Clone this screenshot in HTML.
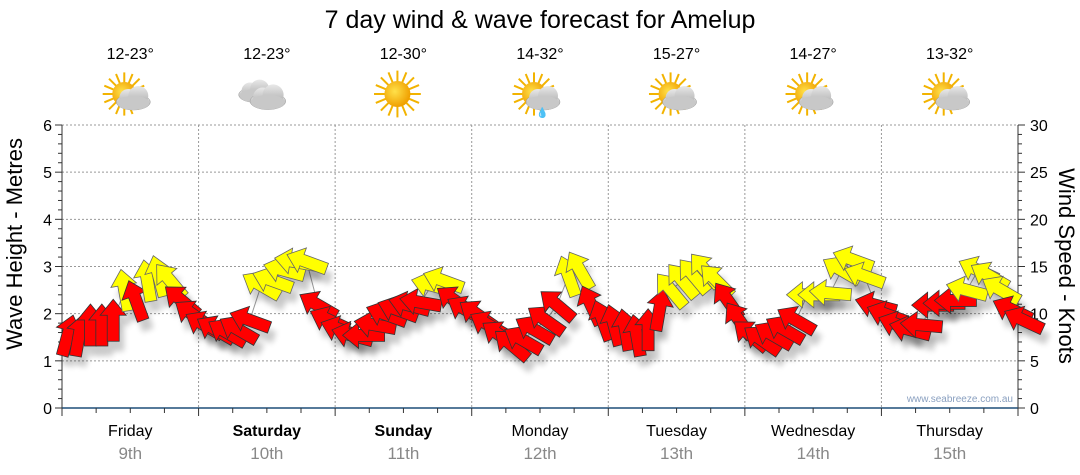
<!DOCTYPE html>
<html><head><meta charset="utf-8"><style>
body{margin:0;background:#fff;font-family:"Liberation Sans",sans-serif}
svg{display:block}
</style></head><body>
<svg id="c" width="1080" height="475" xmlns="http://www.w3.org/2000/svg">
<defs>
<filter id="sh" x="-50%" y="-50%" width="200%" height="200%"><feGaussianBlur stdDeviation="3"/></filter>
<radialGradient id="sun" cx="0.4" cy="0.4" r="0.6"><stop offset="0" stop-color="#ffe14a"/><stop offset="1" stop-color="#f0a000"/></radialGradient>
<linearGradient id="cl" x1="0" y1="0" x2="0" y2="1"><stop offset="0" stop-color="#e8e8e8"/><stop offset="1" stop-color="#a8a8a8"/></linearGradient>
</defs>
<text x="540" y="28" text-anchor="middle" font-size="25" fill="#000">7 day wind &amp; wave forecast for Amelup</text>
<g id="grid"></g>
<g id="axes"></g>
<g id="icons"></g>
<g id="arrows"></g>
<text x="1013" y="402" text-anchor="end" font-size="10" fill="#8aa0c0">www.seabreeze.com.au</text>
<text transform="translate(22,244) rotate(-90)" text-anchor="middle" font-size="22">Wave Height - Metres</text>
<text transform="translate(1059,266) rotate(90)" text-anchor="middle" font-size="22">Wind Speed - Knots</text>
</svg>
<script>
const days=["Friday","Saturday","Sunday","Monday","Tuesday","Wednesday","Thursday"];
const dates=["9th","10th","11th","12th","13th","14th","15th"];
const boldDays=[false,true,true,false,false,false,false];
const temps=["12-23°","12-23°","12-30°","14-32°","15-27°","14-27°","13-32°"];
const weather=["partly","cloudy","sunny","shower","partly","partly","partly"];
const leftTicks=[0,1,2,3,4,5,6];
const rightTicks=[0,5,10,15,20,25,30];
const windKnots=[7.7,7.7,8.8,8.8,9.3,12.5,11.4,13.5,14,13.5,11.4,9.9,8.8,
8.3,8,8.3,9.3,13,13.5,14.6,15.5,15.5,10.9,9.3,8.3,
7.7,7.7,8.8,9.9,10.4,10.9,11.2,13,13.5,11.4,10.4,9.9,
8.8,7.7,6.7,7.2,8.3,9.3,10.9,14,14.6,10.9,9.3,8.8,
8.3,7.7,8.3,10.4,12.5,13.5,14,14.6,13.5,11.4,9.3,7.7,
7.2,7.7,8.3,9.3,12,12,12.2,14.6,15.7,14,10.9,9.9,
8.8,8.3,8.8,10.9,11.1,11.4,12.5,14.6,14,12.5,10.4,9.3];
const windDir=[15,10,0,0,0,-10,-20,-10,-15,-40,-50,-55,-60,
-60,-60,-60,-70,-60,-70,-75,-80,-70,-60,-65,-70,
-75,-90,-80,-70,-70,-75,-80,-75,-70,-55,-60,-55,
-60,-55,-50,-60,-60,-55,-50,-20,-30,-25,-20,-15,
-10,-10,0,10,-40,-40,-40,-40,-45,-35,-35,-50,
-55,-60,-60,-60,-90,-90,-85,-60,-70,-70,-75,-70,
-70,-75,-85,-90,-90,-90,-75,-65,-60,-60,-65,-65];
const yellowThreshold=12;

const X0=62,X1=1018,Y0=408,Y1=125;
const dayW=(X1-X0)/7;
const yM=m=>Y0-m*(Y0-Y1)/6;
const yK=k=>Y0-k*(Y0-Y1)/30;
const xT=i=>X0+dayW*(i+0.5)/12;
const NS="http://www.w3.org/2000/svg";
function mk(tag,attrs,parent,txt){const e=document.createElementNS(NS,tag);for(const k in attrs)e.setAttribute(k,attrs[k]);if(txt!==undefined)e.textContent=txt;parent.appendChild(e);return e;}
const grid=document.getElementById('grid'),axes=document.getElementById('axes'),icons=document.getElementById('icons'),arrows=document.getElementById('arrows');

leftTicks.forEach(v=>{
 if(v>0){const l=mk('line',{x1:X0,x2:X1,y1:yM(v),y2:yM(v),stroke:'#999','stroke-dasharray':'2,2'},grid);
 
 }
 const t=mk('text',{x:X0-10,y:yM(v)+6,'text-anchor':'end','font-size':16},axes,String(v));
 
 
});
rightTicks.forEach(v=>{
 const t=mk('text',{x:X1+12,y:yK(v)+6,'font-size':16},axes,String(v));
 
 
});
for(let i=0;i<=30;i++){mk('line',{x1:X0-(i%5?4:7),x2:X0,y1:yM(i/5),y2:yM(i/5),stroke:'#333'},axes);
 mk('line',{x1:X1,x2:X1+(i%5?4:7),y1:yK(i),y2:yK(i),stroke:'#333'},axes);}
mk('line',{x1:X0,x2:X0,y1:Y1,y2:Y0,stroke:'#333'},axes);
mk('line',{x1:X1,x2:X1,y1:Y1,y2:Y0,stroke:'#333'},axes);
mk('line',{x1:X0,x2:X1,y1:Y0,y2:Y0,stroke:'#1f4e79','stroke-width':1.5},axes);
for(let i=0;i<=28;i++){const x=X0+i*dayW/4;mk('line',{x1:x,x2:x,y1:Y0,y2:Y0+(i%4?5:8),stroke:'#333'},axes);}

function icon(g,type,cx,cy){
 const sun=(r)=>{for(let a=0;a<360;a+=22.5){const rad=a*Math.PI/180;mk('line',{x1:cx+Math.cos(rad)*r*0.8,y1:cy+Math.sin(rad)*r*0.8,x2:cx+Math.cos(rad)*r*1.8,y2:cy+Math.sin(rad)*r*1.8,stroke:'#f2b300','stroke-width':2},g);}mk('circle',{cx:cx,cy:cy,r:r,fill:'url(#sun)'},g);};
 const cloud=(ox,oy,s)=>{mk('ellipse',{cx:ox,cy:oy+4*s,rx:17*s,ry:8*s,fill:'url(#cl)',stroke:'#999','stroke-width':.5},g);mk('circle',{cx:ox-5*s,cy:oy,r:9*s,fill:'url(#cl)'},g);mk('circle',{cx:ox+5*s,cy:oy-2*s,r:10*s,fill:'url(#cl)'},g);mk('ellipse',{cx:ox,cy:oy+5*s,rx:16*s,ry:7*s,fill:'#c8c8c8'},g);};
 if(type==='sunny'){sun(13);}
 else if(type==='cloudy'){cloud(cx-6,cy-3,0.95);cloud(cx+7,cy+3,1.05);}
 else{sun(12);cloud(cx+9,cy+4,1.0);
  if(type==='shower'){mk('text',{x:cx+2,y:cy+22,'font-size':10,fill:'#2a7fd4'},g,'💧');}}
}
days.forEach((d,i)=>{
 const cx=X0+dayW*(i+0.5);
 if(i>0){const l=mk('line',{x1:X0+dayW*i,x2:X0+dayW*i,y1:Y1,y2:Y0,stroke:'#999','stroke-dasharray':'2,2'},grid);
 
 }
 const t=mk('text',{x:cx,y:436,'text-anchor':'middle','font-size':16,'font-weight':boldDays[i]?'bold':'normal'},axes,d);
 
 
 const dt=mk('text',{x:cx,y:459,'text-anchor':'middle','font-size':17,fill:'#888'},axes,dates[i]);
 
 
 const tt=mk('text',{x:cx,y:59,'text-anchor':'middle','font-size':16},icons,temps[i]);
 
 
 const g=mk('g',{},icons);
 
 
 icon(g,weather[i],cx-6,94);
});

let pts=windKnots.map((k,i)=>xT(i)+','+yK(k)).join(' ');
mk('polyline',{points:pts,fill:'none',stroke:'#999','stroke-width':1},arrows);
const shape="M0,-21 L13,-5 L6,-5 L6,21 L-6,21 L-6,-5 L-13,-5 Z";
windKnots.forEach((k,i)=>{
 const x=xT(i),y=yK(k);
 mk('path',{d:shape,transform:`translate(${x+5},${y+10}) rotate(${windDir[i]})`,fill:'#000',opacity:0.2,filter:'url(#sh)'},arrows);
});
windKnots.forEach((k,i)=>{
 const x=xT(i),y=yK(k);
 const a=mk('path',{d:shape,transform:`translate(${x},${y}) rotate(${windDir[i]})`,fill:k>=yellowThreshold?'#ffff00':'#ff0000',stroke:k>=yellowThreshold?'#666':'#333','stroke-width':0.8},arrows);
 
 
});
</script>
</body></html>
